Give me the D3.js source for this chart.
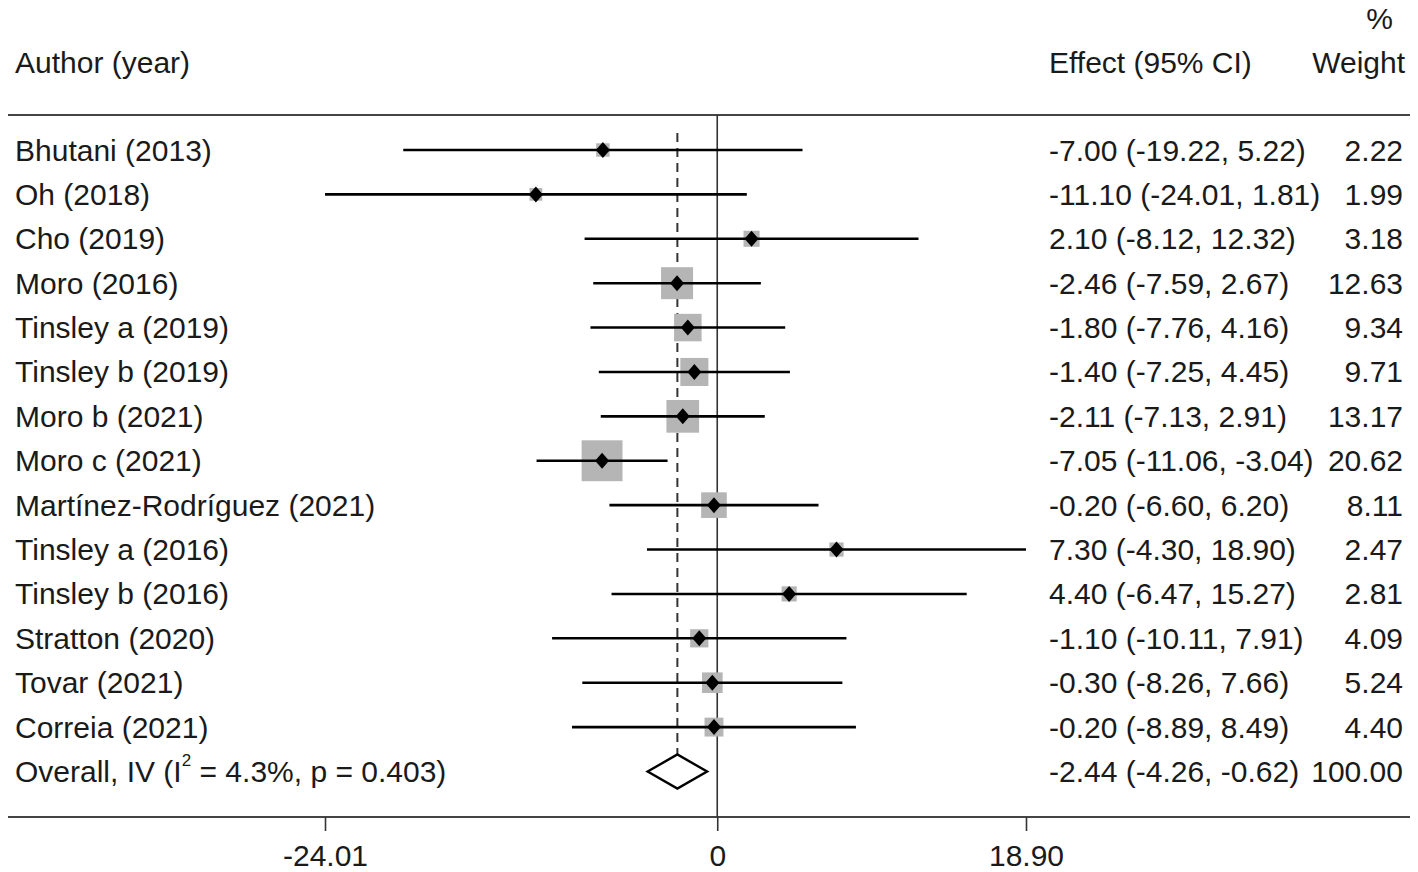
<!DOCTYPE html>
<html>
<head>
<meta charset="utf-8">
<script src="https://cdn.jsdelivr.net/npm/d3@7"></script>
<style>
  body { margin: 0; background: #fff; }
  text { font-family: "Liberation Sans", Arial, sans-serif; fill: #1a1a1a; }
</style>
</head>
<body>
<div id="forest"></div>
<script>
// Study data
var studies = ['Bhutani (2013)', 'Oh (2018)', 'Cho (2019)', 'Moro (2016)', 'Tinsley a (2019)',
    'Tinsley b (2019)', 'Moro b (2021)', 'Moro c (2021)', 'Martínez-Rodríguez (2021)',
    'Tinsley a (2016)', 'Tinsley b (2016)', 'Stratton (2020)', 'Tovar (2021)', 'Correia (2021)'];
var effects = [-7.00, -11.10, 2.10, -2.46, -1.80, -1.40, -2.11, -7.05, -0.20, 7.30, 4.40, -1.10, -0.30, -0.20];
var lower = [-19.22, -24.01, -8.12, -7.59, -7.76, -7.25, -7.13, -11.06, -6.60, -4.30, -6.47, -10.11, -8.26, -8.89];
var upper = [5.22, 1.81, 12.32, 2.67, 4.16, 4.45, 2.91, -3.04, 6.20, 18.90, 15.27, 7.91, 7.66, 8.49];
var weights = [2.22, 1.99, 3.18, 12.63, 9.34, 9.71, 13.17, 20.62, 8.11, 2.47, 2.81, 4.09, 5.24, 4.40];

var overallLabel = 'Overall, IV';
var overallEffect = -2.44;
var overallLower = -4.26;
var overallUpper = -0.62;
var overallWeight = 100.00;

var tickValues = [-24.01, 0, 18.90];
var tickLabels = ['-24.01', '0', '18.90'];

// Setup SVG
var svgWidth = 1418;
var svgHeight = 872;
var fontSize = 30;

var svg = d3.select('#forest')
    .append('svg')
    .attr('width', svgWidth)
    .attr('height', svgHeight);

var rows = studies.concat([overallLabel]);

var xScale = d3.scaleLinear()
    .domain([-24.01, 18.90])
    .range([325, 1026]);

var yScale = d3.scalePoint()
    .domain(rows)
    .range([150, 771.5]);

var boxScale = d3.scaleSqrt()
    .domain([0, 1])
    .range([0, 9]);

// plain hyphen for negatives, like the original
function fmt(v) {
    return (v < 0 ? '-' : '') + Math.abs(v).toFixed(2);
}

var topLine = 115;
var bottomLine = 817;

// Header
svg.append('text')
    .attr('x', 15).attr('y', 62).attr('dy', '0.35em')
    .style('font-size', fontSize + 'px')
    .text('Author (year)');
svg.append('text')
    .attr('x', 1049).attr('y', 62).attr('dy', '0.35em')
    .style('font-size', fontSize + 'px')
    .text('Effect (95% CI)');
svg.append('text')
    .attr('x', 1405).attr('y', 62).attr('dy', '0.35em')
    .attr('text-anchor', 'end')
    .style('font-size', fontSize + 'px')
    .text('Weight');
svg.append('text')
    .attr('x', 1393).attr('y', 18).attr('dy', '0.35em')
    .attr('text-anchor', 'end')
    .style('font-size', fontSize + 'px')
    .text('%');

// Horizontal rules
[topLine, bottomLine].forEach(function(y) {
    svg.append('line')
        .attr('x1', 8).attr('x2', 1410)
        .attr('y1', y).attr('y2', y)
        .attr('stroke', '#444')
        .attr('stroke-width', 2.2);
});

// Null line and overall dashed line
svg.append('line')
    .attr('x1', xScale(0)).attr('x2', xScale(0))
    .attr('y1', topLine).attr('y2', bottomLine)
    .attr('stroke', '#333')
    .attr('stroke-width', 1.6);

svg.append('line')
    .attr('x1', xScale(overallEffect)).attr('x2', xScale(overallEffect))
    .attr('y1', 133).attr('y2', 788)
    .attr('stroke', '#333')
    .attr('stroke-width', 2)
    .attr('stroke-dasharray', '9,6');

// Axis along the bottom rule
var axis = svg.append('g')
    .attr('transform', `translate(0, ${bottomLine})`)
    .call(d3.axisBottom(xScale)
        .tickValues(tickValues)
        .tickFormat(function(d, i) { return tickLabels[i]; })
        .tickSize(14)
        .tickPadding(14));
axis.select('.domain').remove();
axis.selectAll('.tick line')
    .attr('stroke', '#333')
    .attr('stroke-width', 1.6);
axis.selectAll('.tick text')
    .attr('fill', '#1a1a1a')
    .style('font-family', '"Liberation Sans", Arial, sans-serif')
    .style('font-size', fontSize + 'px');

var studyData = studies.map(function(s, i) {
    return { study: s, es: effects[i], lo: lower[i], hi: upper[i], w: weights[i] };
});

// Weight boxes
svg.append('g').selectAll('rect')
    .data(studyData)
    .enter()
    .append('rect')
    .attr('x', d => xScale(d.es) - boxScale(d.w) / 2)
    .attr('y', d => yScale(d.study) - boxScale(d.w) / 2)
    .attr('width', d => boxScale(d.w))
    .attr('height', d => boxScale(d.w))
    .attr('fill', '#b5b5b5');

// CI lines
svg.append('g').selectAll('line')
    .data(studyData)
    .enter()
    .append('line')
    .attr('x1', d => xScale(d.lo))
    .attr('x2', d => xScale(d.hi))
    .attr('y1', d => yScale(d.study))
    .attr('y2', d => yScale(d.study))
    .attr('stroke', '#000')
    .attr('stroke-width', 2.6);

// Point estimates
svg.append('g').selectAll('path')
    .data(studyData)
    .enter()
    .append('path')
    .attr('transform', d => `translate(${xScale(d.es)}, ${yScale(d.study)})`)
    .attr('d', 'M0,-8L7,0L0,8L-7,0Z')
    .attr('fill', '#000');

// Overall diamond
var yo = yScale(overallLabel);
svg.append('path')
    .attr('d', `M${xScale(overallLower)},${yo}L${xScale(overallEffect)},${yo - 17}L${xScale(overallUpper)},${yo}L${xScale(overallEffect)},${yo + 17}Z`)
    .attr('fill', '#fff')
    .attr('stroke', '#000')
    .attr('stroke-width', 2.4);

// Row labels
svg.append('g').selectAll('text')
    .data(studyData)
    .enter()
    .append('text')
    .attr('x', 15)
    .attr('y', d => yScale(d.study))
    .attr('dy', '0.35em')
    .style('font-size', fontSize + 'px')
    .text(d => d.study);

var overallText = svg.append('text')
    .attr('x', 15)
    .attr('y', yo)
    .attr('dy', '0.35em')
    .style('font-size', fontSize + 'px');
overallText.append('tspan').text('Overall, IV (I');
overallText.append('tspan')
    .attr('dy', '-0.95em')
    .style('font-size', '17px')
    .text('2');
overallText.append('tspan')
    .attr('dy', '0.54em')
    .text(' = 4.3%, p = 0.403)');

// Effect and weight columns
var ciRows = studyData.concat([{ study: overallLabel, es: overallEffect, lo: overallLower, hi: overallUpper, w: overallWeight }]);

svg.append('g').selectAll('text')
    .data(ciRows)
    .enter()
    .append('text')
    .attr('x', 1049)
    .attr('y', d => yScale(d.study))
    .attr('dy', '0.35em')
    .style('font-size', fontSize + 'px')
    .text(d => `${fmt(d.es)} (${fmt(d.lo)}, ${fmt(d.hi)})`);

svg.append('g').selectAll('text')
    .data(ciRows)
    .enter()
    .append('text')
    .attr('x', 1403)
    .attr('y', d => yScale(d.study))
    .attr('dy', '0.35em')
    .attr('text-anchor', 'end')
    .style('font-size', fontSize + 'px')
    .text(d => fmt(d.w));
</script>
</body>
</html>
